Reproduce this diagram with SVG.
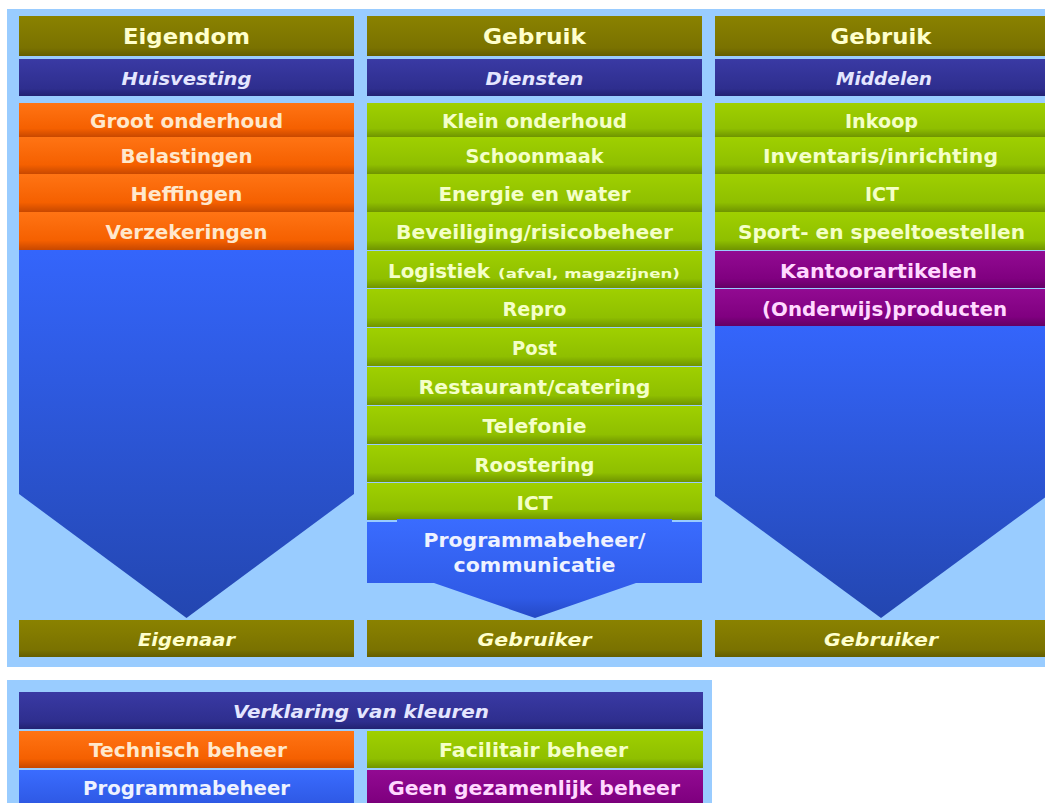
<svg xmlns="http://www.w3.org/2000/svg" width="1045" height="803" viewBox="0 0 1045 803">
<defs>
<linearGradient id="gOl" x1="0" y1="0" x2="0" y2="1"><stop offset="0" stop-color="#8a8200"/><stop offset="0.8" stop-color="#7a7200"/><stop offset="1" stop-color="#645d00"/></linearGradient>
<linearGradient id="gNv" x1="0" y1="0" x2="0" y2="1"><stop offset="0" stop-color="#3a3aa4"/><stop offset="0.8" stop-color="#2e2e8e"/><stop offset="1" stop-color="#222272"/></linearGradient>
<linearGradient id="gOr" x1="0" y1="0" x2="0" y2="1"><stop offset="0" stop-color="#ff7414"/><stop offset="0.75" stop-color="#f56000"/><stop offset="1" stop-color="#c84800"/></linearGradient>
<linearGradient id="gGr" x1="0" y1="0" x2="0" y2="1"><stop offset="0" stop-color="#9fd000"/><stop offset="0.75" stop-color="#8fbf00"/><stop offset="1" stop-color="#6f9400"/></linearGradient>
<linearGradient id="gPu" x1="0" y1="0" x2="0" y2="1"><stop offset="0" stop-color="#920a92"/><stop offset="0.75" stop-color="#800080"/><stop offset="1" stop-color="#640064"/></linearGradient>
<linearGradient id="gBl" x1="0" y1="0" x2="0" y2="1"><stop offset="0" stop-color="#3465fb"/><stop offset="1" stop-color="#2346b0"/></linearGradient>
<linearGradient id="gBx" x1="0" y1="0" x2="0" y2="1"><stop offset="0" stop-color="#3a6cff"/><stop offset="0.8" stop-color="#2f5ae6"/><stop offset="1" stop-color="#2448c4"/></linearGradient>
<style>
.t{font-family:"DejaVu Sans",Verdana,sans-serif;font-weight:bold;text-anchor:middle;font-size:19px}
.h{font-size:21px;fill:#ffffcc}
.i{font-style:italic;font-size:18px}
.ol{fill:#ffffcc}
.nv{fill:#e4e6ff}
.or{fill:#ffe8cc}
.gr{fill:#f4ffc8}
.pu{fill:#ffd8ff}
.bl{fill:#eef2ff}
</style>
</defs>
<rect x="0" y="0" width="1045" height="803" fill="#ffffff"/>
<rect x="7" y="9" width="1038" height="658" fill="#99ccff"/>
<rect x="7" y="680" width="705" height="123" fill="#99ccff"/>

<g id="arrows">
<path id="arrow-eigendom" d="M19,250 H354 V494 L186.5,618 L19,494 Z" fill="url(#gBl)"/>
<path id="arrow-middelen" d="M715,326 H1047 V496 L881,618 L715,496 Z" fill="url(#gBl)"/>
</g>
<g id="connectors"/>

<g id="col1-header"><rect x="19" y="16" width="335" height="40" fill="url(#gOl)"/><text class="t h" x="186.5" y="44" textLength="127" lengthAdjust="spacingAndGlyphs">Eigendom</text></g>
<g id="col2-header"><rect x="367" y="16" width="335" height="40" fill="url(#gOl)"/><text class="t h" x="534.5" y="44" textLength="103" lengthAdjust="spacingAndGlyphs">Gebruik</text></g>
<g id="col3-header"><rect x="715" y="16" width="332" height="40" fill="url(#gOl)"/><text class="t h" x="881" y="44" textLength="101" lengthAdjust="spacingAndGlyphs">Gebruik</text></g>

<g id="col1-sub"><rect x="19" y="59" width="335" height="37" fill="url(#gNv)"/><text class="t i nv" x="186.5" y="85" textLength="130" lengthAdjust="spacingAndGlyphs">Huisvesting</text></g>
<g id="col2-sub"><rect x="367" y="59" width="335" height="37" fill="url(#gNv)"/><text class="t i nv" x="534.5" y="85" textLength="98" lengthAdjust="spacingAndGlyphs">Diensten</text></g>
<g id="col3-sub"><rect x="715" y="59" width="332" height="37" fill="url(#gNv)"/><text class="t i nv" x="884" y="85" textLength="96" lengthAdjust="spacingAndGlyphs">Middelen</text></g>

<g id="groot-onderhoud"><rect x="19" y="103" width="335" height="34" fill="url(#gOr)"/><text class="t or" x="186.5" y="127.5" textLength="193" lengthAdjust="spacingAndGlyphs">Groot onderhoud</text></g>
<g id="belastingen"><rect x="19" y="137" width="335" height="37" fill="url(#gOr)"/><text class="t or" x="186.5" y="163" textLength="132" lengthAdjust="spacingAndGlyphs">Belastingen</text></g>
<g id="heffingen"><rect x="19" y="174" width="335" height="38" fill="url(#gOr)"/><text class="t or" x="186.5" y="200.5" textLength="112" lengthAdjust="spacingAndGlyphs">Heffingen</text></g>
<g id="verzekeringen"><rect x="19" y="212" width="335" height="38" fill="url(#gOr)"/><text class="t or" x="186.5" y="239" textLength="162" lengthAdjust="spacingAndGlyphs">Verzekeringen</text></g>

<g id="klein-onderhoud"><rect x="367" y="103" width="335" height="34" fill="url(#gGr)"/><text class="t gr" x="534.5" y="127.5" textLength="185" lengthAdjust="spacingAndGlyphs">Klein onderhoud</text></g>
<g id="schoonmaak"><rect x="367" y="137" width="335" height="37" fill="url(#gGr)"/><text class="t gr" x="534.5" y="163" textLength="138" lengthAdjust="spacingAndGlyphs">Schoonmaak</text></g>
<g id="energie"><rect x="367" y="174" width="335" height="38" fill="url(#gGr)"/><text class="t gr" x="534.5" y="200.5" textLength="192" lengthAdjust="spacingAndGlyphs">Energie en water</text></g>
<g id="beveiliging"><rect x="367" y="212" width="335" height="38" fill="url(#gGr)"/><text class="t gr" x="534.5" y="239" textLength="277" lengthAdjust="spacingAndGlyphs">Beveiliging/risicobeheer</text></g>
<g id="logistiek"><rect x="367" y="251" width="335" height="37" fill="url(#gGr)"/><text class="t gr" y="277.5" style="text-anchor:start"><tspan x="388" textLength="102" lengthAdjust="spacingAndGlyphs">Logistiek</tspan><tspan x="498" font-size="13" textLength="182" lengthAdjust="spacingAndGlyphs">(afval, magazijnen)</tspan></text></g>
<g id="repro"><rect x="367" y="289" width="335" height="38" fill="url(#gGr)"/><text class="t gr" x="534.5" y="316" textLength="64" lengthAdjust="spacingAndGlyphs">Repro</text></g>
<g id="post"><rect x="367" y="328" width="335" height="38" fill="url(#gGr)"/><text class="t gr" x="534.5" y="355" textLength="45" lengthAdjust="spacingAndGlyphs">Post</text></g>
<g id="restaurant"><rect x="367" y="367" width="335" height="38" fill="url(#gGr)"/><text class="t gr" x="534.5" y="394" textLength="232" lengthAdjust="spacingAndGlyphs">Restaurant/catering</text></g>
<g id="telefonie"><rect x="367" y="406" width="335" height="38" fill="url(#gGr)"/><text class="t gr" x="534.5" y="433" textLength="104" lengthAdjust="spacingAndGlyphs">Telefonie</text></g>
<g id="roostering"><rect x="367" y="445" width="335" height="37" fill="url(#gGr)"/><text class="t gr" x="534.5" y="471.5" textLength="120" lengthAdjust="spacingAndGlyphs">Roostering</text></g>
<g id="ict-diensten"><rect x="367" y="483" width="335" height="37" fill="url(#gGr)"/><text class="t gr" x="534.5" y="509.5" textLength="36" lengthAdjust="spacingAndGlyphs">ICT</text></g>
<g id="programmabeheer-communicatie"><path d="M397,519 H672 V522 H702 V583 H636 L535,618 L434,583 H367 V522 H397 Z" fill="url(#gBx)"/><text class="t bl" x="534.5" y="547" textLength="222" lengthAdjust="spacingAndGlyphs">Programmabeheer/</text><text class="t bl" x="534.5" y="572" textLength="162" lengthAdjust="spacingAndGlyphs">communicatie</text></g>

<g id="inkoop"><rect x="715" y="103" width="332" height="34" fill="url(#gGr)"/><text class="t gr" x="881.5" y="127.5" textLength="73" lengthAdjust="spacingAndGlyphs">Inkoop</text></g>
<g id="inventaris"><rect x="715" y="137" width="332" height="37" fill="url(#gGr)"/><text class="t gr" x="880.5" y="163" textLength="235" lengthAdjust="spacingAndGlyphs">Inventaris/inrichting</text></g>
<g id="ict-middelen"><rect x="715" y="174" width="332" height="38" fill="url(#gGr)"/><text class="t gr" x="882" y="200.5" textLength="34" lengthAdjust="spacingAndGlyphs">ICT</text></g>
<g id="sport"><rect x="715" y="212" width="332" height="38" fill="url(#gGr)"/><text class="t gr" x="881.5" y="239" textLength="287" lengthAdjust="spacingAndGlyphs">Sport- en speeltoestellen</text></g>
<g id="kantoorartikelen"><rect x="715" y="251" width="332" height="37" fill="url(#gPu)"/><text class="t pu" x="878.5" y="277.5" textLength="197" lengthAdjust="spacingAndGlyphs">Kantoorartikelen</text></g>
<g id="onderwijsproducten"><rect x="715" y="289" width="332" height="37" fill="url(#gPu)"/><text class="t pu" x="884.5" y="316" textLength="245" lengthAdjust="spacingAndGlyphs">(Onderwijs)producten</text></g>

<g id="eigenaar"><rect x="19" y="620" width="335" height="37" fill="url(#gOl)"/><text class="t i ol" x="186.5" y="646" textLength="97" lengthAdjust="spacingAndGlyphs">Eigenaar</text></g>
<g id="gebruiker-diensten"><rect x="367" y="620" width="335" height="37" fill="url(#gOl)"/><text class="t i ol" x="534.5" y="646" textLength="114" lengthAdjust="spacingAndGlyphs">Gebruiker</text></g>
<g id="gebruiker-middelen"><rect x="715" y="620" width="332" height="37" fill="url(#gOl)"/><text class="t i ol" x="881" y="646" textLength="114" lengthAdjust="spacingAndGlyphs">Gebruiker</text></g>

<g id="legend-header"><rect x="19" y="692" width="684" height="37" fill="url(#gNv)"/><text class="t i nv" x="361" y="718" textLength="256" lengthAdjust="spacingAndGlyphs">Verklaring van kleuren</text></g>
<g id="legend-technisch"><rect x="19" y="731" width="335" height="37" fill="url(#gOr)"/><text class="t or" x="188" y="757" textLength="198" lengthAdjust="spacingAndGlyphs">Technisch beheer</text></g>
<g id="legend-facilitair"><rect x="367" y="731" width="336" height="37" fill="url(#gGr)"/><text class="t gr" x="533.5" y="757" textLength="189" lengthAdjust="spacingAndGlyphs">Facilitair beheer</text></g>
<g id="legend-programmabeheer"><rect x="19" y="770" width="335" height="40" fill="url(#gBx)"/><text class="t bl" x="186.5" y="795" textLength="207" lengthAdjust="spacingAndGlyphs">Programmabeheer</text></g>
<g id="legend-geen"><rect x="367" y="770" width="336" height="40" fill="url(#gPu)"/><text class="t pu" x="534" y="795" textLength="292" lengthAdjust="spacingAndGlyphs">Geen gezamenlijk beheer</text></g>
</svg>
